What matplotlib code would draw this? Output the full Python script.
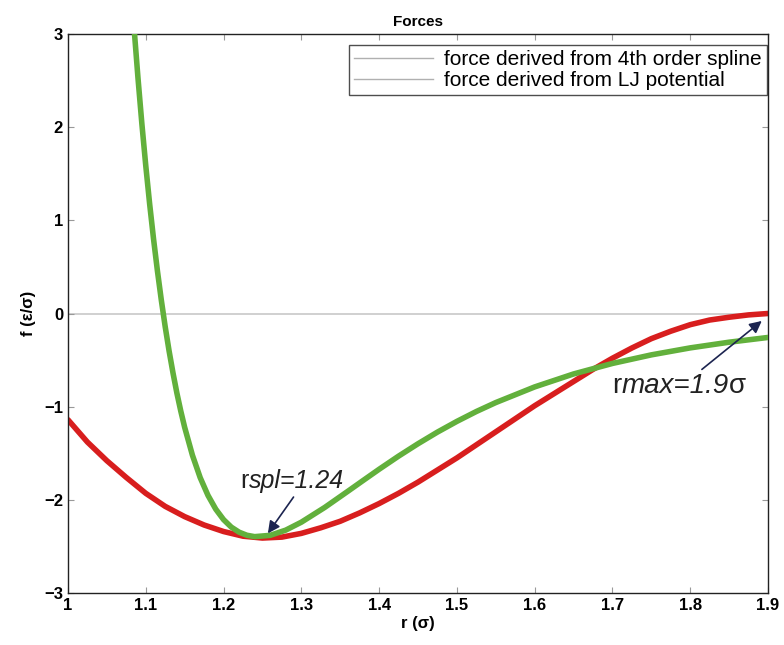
import matplotlib
matplotlib.use("Agg")
import matplotlib.pyplot as plt
from matplotlib.lines import Line2D

plt.rcParams['font.family'] = ['Liberation Sans', 'DejaVu Sans']

# LJ-derived force (green)
r_lj = [1.08, 1.085, 1.09, 1.095, 1.10, 1.105, 1.11, 1.115, 1.12, 1.125, 1.13, 1.135,
        1.14, 1.145, 1.15, 1.16, 1.17, 1.18, 1.19, 1.20, 1.21, 1.22, 1.23, 1.24,
        1.26, 1.28, 1.30, 1.33, 1.36, 1.38, 1.40, 1.425, 1.45, 1.475, 1.50, 1.525,
        1.55, 1.60, 1.65, 1.70, 1.75, 1.80, 1.85, 1.90]
f_lj = [3.646, 3.062, 2.528, 2.037, 1.588, 1.176, 0.801, 0.458, 0.144, -0.142,
        -0.402, -0.637, -0.853, -1.046, -1.221, -1.521, -1.762, -1.952, -2.100,
        -2.212, -2.293, -2.347, -2.380, -2.395, -2.381, -2.325, -2.240, -2.082,
        -1.907, -1.789, -1.672, -1.531, -1.398, -1.273, -1.158, -1.052, -0.956,
        -0.788, -0.649, -0.536, -0.444, -0.369, -0.308, -0.257]

# 4th-order spline derived force (red)
r_sp = [1.00, 1.025, 1.05, 1.075, 1.10, 1.125, 1.15, 1.175, 1.20, 1.225, 1.25,
        1.275, 1.30, 1.325, 1.35, 1.375, 1.40, 1.425, 1.45, 1.475, 1.50, 1.525,
        1.55, 1.575, 1.60, 1.625, 1.65, 1.675, 1.70, 1.725, 1.75, 1.775, 1.80,
        1.825, 1.85, 1.875, 1.90]
f_sp = [-1.14, -1.38, -1.58, -1.76, -1.93, -2.07, -2.18, -2.27, -2.34, -2.39, -2.41,
        -2.40, -2.36, -2.30, -2.23, -2.14, -2.04, -1.93, -1.81, -1.68, -1.55, -1.41,
        -1.27, -1.13, -0.99, -0.86, -0.73, -0.60, -0.48, -0.37, -0.27, -0.19, -0.12,
        -0.07, -0.04, -0.015, 0.0]

xticks = [1, 1.1, 1.2, 1.3, 1.4, 1.5, 1.6, 1.7, 1.8, 1.9]
xticklabels = ['1', '1.1', '1.2', '1.3', '1.4', '1.5', '1.6', '1.7', '1.8', '1.9']
yticks = [-3, -2, -1, 0, 1, 2, 3]
legend_labels = ['force derived from 4th order spline', 'force derived from LJ potential']

fig = plt.figure(figsize=(7.84, 6.45), dpi=100)
ax = fig.add_axes([0.0867, 0.0806, 0.8929, 0.8667])

ax.axhline(0, color='#c8c8c8', lw=1.2, zorder=1)
ax.plot(r_sp, f_sp, color='#d81e1e', lw=4.0, solid_capstyle='round',
        solid_joinstyle='round', zorder=2)
ax.plot(r_lj, f_lj, color='#62b03c', lw=4.0, solid_capstyle='round',
        solid_joinstyle='round', zorder=3)

ax.set_xlim(1, 1.9)
ax.set_ylim(-3, 3)
ax.set_xticks(xticks)
ax.set_xticklabels(xticklabels)
ax.set_yticks(yticks)
ax.set_yticklabels(['\u22123', '\u22122', '\u22121', '0', '1', '2', '3'])
ax.tick_params(direction='in', top=True, right=True, length=4, width=0.8,
               labelsize=12, color='#999999')
for lab in ax.get_xticklabels() + ax.get_yticklabels():
    lab.set_fontweight('bold')
for s in ax.spines.values():
    s.set_linewidth(1.0)
    s.set_color('#222222')

ax.set_title('Forces', fontsize=11, fontweight='bold', pad=6)
ax.set_xlabel('r (\u03c3)', fontsize=12, fontweight='bold', labelpad=2)
ax.set_ylabel('f (\u03b5/\u03c3)', fontsize=12, fontweight='bold', labelpad=6)

handles = [Line2D([], [], color='#b0b0b0', lw=1.0), Line2D([], [], color='#b0b0b0', lw=1.0)]
leg = ax.legend(handles, legend_labels, loc='upper right', bbox_to_anchor=(0.998, 0.98),
                fontsize=15, frameon=True, fancybox=False, edgecolor='#222222',
                handlelength=3.8, handletextpad=0.5, borderaxespad=0.0,
                borderpad=0.25, labelspacing=0.08)
leg.get_frame().set_linewidth(1.0)

arrow_kw = dict(arrowstyle='-|>', color='#1c2450', lw=1.2,
                mutation_scale=18, shrinkA=0, shrinkB=0)

# annotation 1: r (upright) + spl=1.24 (italic)
t1 = ax.text(1.222, -1.80, 'r', fontsize=18, color='#222222', ha='left', va='center')
ax.annotate('spl=1.24', xy=(1.0, 0.0), xycoords=t1, fontsize=18, color='#222222',
            style='italic', ha='left', va='bottom')
ax.annotate('', xy=(1.257, -2.36), xytext=(1.29, -1.97), arrowprops=arrow_kw)

# annotation 2: r (upright) + max=1.9 (italic) + sigma
t2 = ax.text(1.70, -0.78, 'r', fontsize=20, color='#222222', ha='left', va='center')
t3 = ax.annotate('max=1.9', xy=(1.0, 0.0), xycoords=t2, fontsize=20, color='#222222',
                 style='italic', ha='left', va='bottom')
ax.annotate('\u03c3', xy=(1.0, 0.0), xycoords=t3, fontsize=20, color='#222222',
            ha='left', va='bottom')
ax.annotate('', xy=(1.892, -0.08), xytext=(1.815, -0.60), arrowprops=arrow_kw)

fig.savefig('out.png', dpi=100)
